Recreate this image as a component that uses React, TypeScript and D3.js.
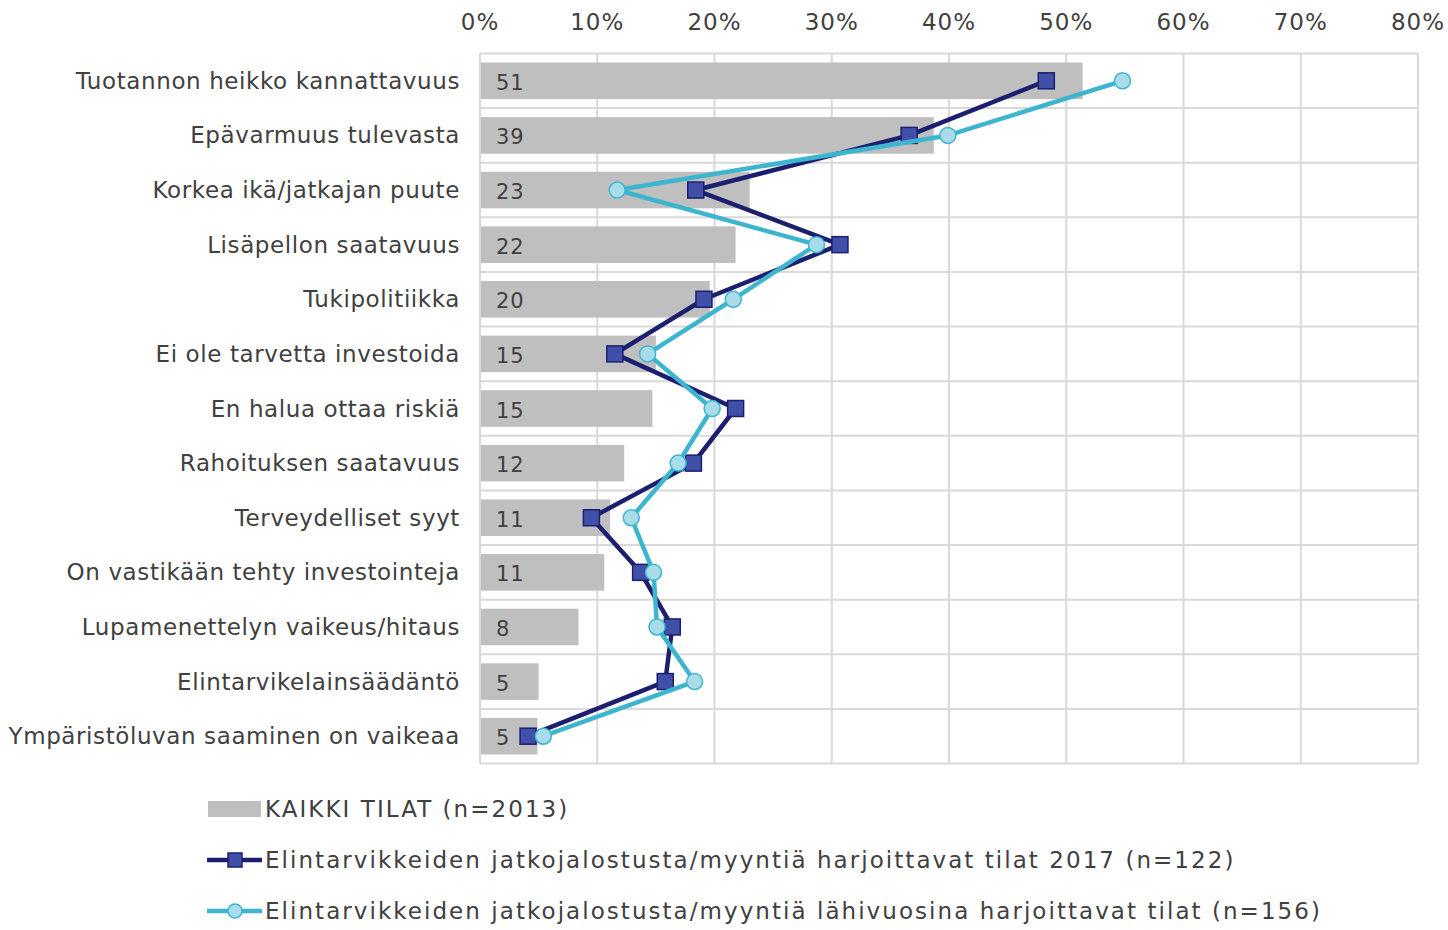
import React from "react";
import * as d3 from "d3";

const categories = [
  "Tuotannon heikko kannattavuus",
  "Epävarmuus tulevasta",
  "Korkea ikä/jatkajan puute",
  "Lisäpellon saatavuus",
  "Tukipolitiikka",
  "Ei ole tarvetta investoida",
  "En halua ottaa riskiä",
  "Rahoituksen saatavuus",
  "Terveydelliset syyt",
  "On vastikään tehty investointeja",
  "Lupamenettelyn vaikeus/hitaus",
  "Elintarvikelainsäädäntö",
  "Ympäristöluvan saaminen on vaikeaa",
];
const allFarms = [51.4, 38.7, 23.0, 21.8, 19.6, 15.0, 14.7, 12.3, 11.1, 10.6, 8.4, 5.0, 4.9];
const food2017 = [48.3, 36.6, 18.4, 30.7, 19.1, 11.5, 21.8, 18.2, 9.5, 13.7, 16.4, 15.8, 4.1];
const foodFuture = [54.8, 39.9, 11.7, 28.7, 21.6, 14.3, 19.8, 16.9, 12.9, 14.8, 15.1, 18.3, 5.4];
const xTicks = [0, 10, 20, 30, 40, 50, 60, 70, 80];
const legendLabels = [
  "KAIKKI TILAT (n=2013)",
  "Elintarvikkeiden jatkojalostusta/myyntiä harjoittavat tilat 2017 (n=122)",
  "Elintarvikkeiden jatkojalostusta/myyntiä lähivuosina harjoittavat tilat (n=156)",
];

const W = 1448;
const H = 930;
const FONT = "'DejaVu Sans', Verdana, sans-serif";
const TXT = "#404040";
const BAR = "#BFBFBF";
const GRID = "#D9D9D9";
const DARK_LINE = "#1B1F6E";
const DARK_FILL = "#4050A8";
const LIGHT_LINE = "#3DB5CF";
const LIGHT_FILL = "#A8DCE8";

export default function App() {
  const x = d3.scaleLinear().domain([0, 80]).range([480, 1418]);
  const y = d3
    .scaleBand<string>()
    .domain(categories)
    .range([53.5, 763.5])
    .paddingInner(0.33)
    .paddingOuter(0.165);
  const step = y.step();
  const top = 53.5;
  const bottom = 763.5;
  const cy = (i: number) => (y(categories[i]) as number) + y.bandwidth() / 2;

  const line = d3
    .line<number>()
    .x((d) => x(d))
    .y((_, i) => cy(i));

  const boundaries = d3.range(categories.length + 1).map((i) => top + i * step);

  return (
    <svg
      width={W}
      height={H}
      style={{ position: "absolute", left: 0, top: 0, background: "#fff" }}
      fontFamily={FONT}
    >
      {/* grid */}
      {xTicks.map((t) => (
        <line key={"gx" + t} x1={x(t)} x2={x(t)} y1={top} y2={bottom} stroke={GRID} strokeWidth={2} />
      ))}
      {boundaries.map((b, i) => (
        <line key={"gy" + i} x1={x(0)} x2={x(80)} y1={b} y2={b} stroke={GRID} strokeWidth={2} />
      ))}
      {/* tick labels */}
      {xTicks.map((t) => (
        <text
          key={"tl" + t}
          x={x(t)}
          y={22}
          textAnchor="middle"
          dominantBaseline="central"
          fontSize={23}
          letterSpacing={1}
          fill={TXT}
        >
          {t + "%"}
        </text>
      ))}
      {/* category labels */}
      {categories.map((c, i) => (
        <text
          key={"cl" + i}
          x={460}
          y={cy(i)}
          textAnchor="end"
          dominantBaseline="central"
          fontSize={23}
          letterSpacing={0.6}
          fill={TXT}
        >
          {c}
        </text>
      ))}
      {/* bars */}
      {allFarms.map((v, i) => (
        <rect
          key={"b" + i}
          x={x(0) + 1}
          y={y(categories[i]) as number}
          width={x(v) - x(0) - 1}
          height={y.bandwidth()}
          fill={BAR}
        />
      ))}
      {allFarms.map((v, i) => (
        <text
          key={"bl" + i}
          x={496}
          y={cy(i) + 2}
          dominantBaseline="central"
          fontSize={21}
          letterSpacing={1}
          fill={TXT}
        >
          {Math.round(v)}
        </text>
      ))}
      {/* dark series */}
      <path d={line(food2017) || ""} fill="none" stroke={DARK_LINE} strokeWidth={4.5} strokeLinejoin="round" />
      {food2017.map((v, i) => (
        <rect
          key={"ds" + i}
          x={x(v) - 8}
          y={cy(i) - 8}
          width={16}
          height={16}
          fill={DARK_FILL}
          stroke={DARK_LINE}
          strokeWidth={1.5}
        />
      ))}
      {/* light series */}
      <path d={line(foodFuture) || ""} fill="none" stroke={LIGHT_LINE} strokeWidth={4.5} strokeLinejoin="round" />
      {foodFuture.map((v, i) => (
        <circle key={"lc" + i} cx={x(v)} cy={cy(i)} r={8} fill={LIGHT_FILL} stroke={LIGHT_LINE} strokeWidth={1.5} />
      ))}
      {/* legend */}
      <g>
        <rect x={208} y={801} width={53} height={16} fill={BAR} />
        <line x1={207} x2={262} y1={860} y2={860} stroke={DARK_LINE} strokeWidth={4.5} />
        <rect x={228} y={853} width={14} height={14} fill={DARK_FILL} stroke={DARK_LINE} strokeWidth={1.5} />
        <line x1={207} x2={262} y1={911} y2={911} stroke={LIGHT_LINE} strokeWidth={4.5} />
        <circle cx={235} cy={911} r={7} fill={LIGHT_FILL} stroke={LIGHT_LINE} strokeWidth={1.5} />
        {legendLabels.map((l, i) => (
          <text
            key={"lg" + i}
            x={265}
            y={[809, 860, 911][i]}
            dominantBaseline="central"
            fontSize={23}
            letterSpacing={2.05}
            fill={TXT}
          >
            {l}
          </text>
        ))}
      </g>
    </svg>
  );
}
